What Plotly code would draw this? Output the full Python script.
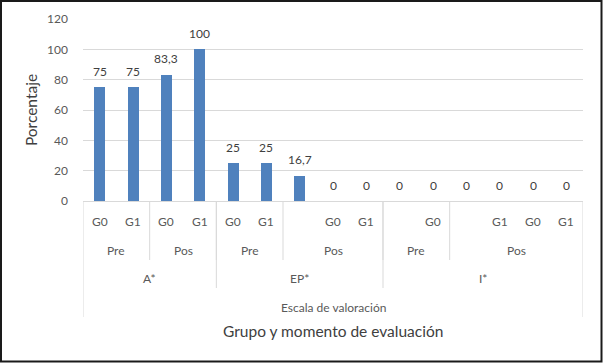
import plotly.graph_objects as go

# ---- data ----
values = [75, 75, 83.3, 100, 25, 25, 16.7, 0, 0, 0, 0, 0, 0, 0, 0]
grupo_labels = ["G0", "G1", "G0", "G1", "G0", "G1", "", "G0", "G1", "", "G0", "", "G1", "G0", "G1"]
momento_groups = [("Pre", 2), ("Pos", 2), ("Pre", 2), ("Pos", 3), ("Pre", 2), ("Pos", 4)]
escala_groups = [("A*", 4), ("EP*", 5), ("I*", 6)]
outer_label = "Escala de valoración"
x_title = "Grupo y momento de evaluación"
y_title = "Porcentaje"
y_ticks = [0, 20, 40, 60, 80, 100, 120]

# ---- layout constants ----
W, H = 603, 363
ML, MR, MT, MB = 83, 20, 19, 162
PW, PH = W - ML - MR, H - MT - MB
FONT = "Lato, 'Open Sans', sans-serif"
LABEL_COLOR = "#595959"
TITLE_COLOR = "#404040"
LINE_COLOR = "#d9d9d9"

n = len(values)
xs = list(range(n))
labels = [f"{v:g}".replace(".", ",") for v in values]

fig = go.Figure()
fig.add_trace(go.Bar(x=xs, y=values, width=0.33, marker=dict(color="#4f81bd", line=dict(width=0)),
                     hoverinfo="skip"))

annotations = []
shapes = []

# data labels
for x, v, t in zip(xs, values, labels):
    annotations.append(dict(x=x, y=v, xref="x", yref="y", text=t, showarrow=False,
                            yanchor="middle", yshift=16,
                            font=dict(family=FONT, size=12, color=TITLE_COLOR)))

def py(px):
    """pixel offset below the x axis -> paper y"""
    return -px / PH

# level 1 labels (grupo)
for x, t in zip(xs, grupo_labels):
    if t:
        annotations.append(dict(x=x, y=0, xref="x", yref="paper", text=t, showarrow=False,
                                yanchor="middle", yshift=-20,
                                font=dict(family=FONT, size=12, color=LABEL_COLOR)))

# level 2 labels (momento) and dividers
start = 0
for name, cnt in momento_groups:
    center = start + (cnt - 1) / 2
    annotations.append(dict(x=center, y=0, xref="x", yref="paper", text=name, showarrow=False,
                            yanchor="middle", yshift=-49,
                            font=dict(family=FONT, size=12, color=LABEL_COLOR)))
    start += cnt
    if start < n:
        shapes.append(dict(type="line", xref="x", yref="paper", x0=start - 0.5, x1=start - 0.5,
                           y0=0, y1=py(59), line=dict(color=LINE_COLOR, width=1)))

# level 3 labels (escala) and dividers
start = 0
for name, cnt in escala_groups:
    center = start + (cnt - 1) / 2
    annotations.append(dict(x=center, y=0, xref="x", yref="paper", text=name, showarrow=False,
                            yanchor="middle", yshift=-77,
                            font=dict(family=FONT, size=12, color=LABEL_COLOR)))
    start += cnt
    if start < n:
        shapes.append(dict(type="line", xref="x", yref="paper", x0=start - 0.5, x1=start - 0.5,
                           y0=0, y1=py(87), line=dict(color=LINE_COLOR, width=1)))

# outer level
annotations.append(dict(x=(n - 1) / 2, y=0, xref="x", yref="paper", text=outer_label, showarrow=False,
                        yanchor="middle", yshift=-106,
                        font=dict(family=FONT, size=12, color=LABEL_COLOR)))
for xe in (-0.5, n - 0.5):
    shapes.append(dict(type="line", xref="x", yref="paper", x0=xe, x1=xe,
                       y0=0, y1=py(116), line=dict(color=LINE_COLOR, width=1)))

# axis title
annotations.append(dict(x=(n - 1) / 2, y=0, xref="x", yref="paper", text=x_title, showarrow=False,
                        yanchor="middle", yshift=-130,
                        font=dict(family=FONT, size=15.5, color=TITLE_COLOR)))

# outer frame
shapes.append(dict(type="rect", xref="paper", yref="paper",
                   x0=-(ML - 1) / PW, x1=1 + (MR - 1.5) / PW,
                   y0=-(MB - 1.5) / PH, y1=1 + (MT - 1) / PH,
                   line=dict(color="#1a1a1a", width=2), fillcolor="rgba(0,0,0,0)"))

fig.update_layout(
    width=W, height=H,
    margin=dict(l=ML, r=MR, t=MT, b=MB, pad=0),
    paper_bgcolor="white", plot_bgcolor="white",
    showlegend=False,
    bargap=0,
    annotations=annotations,
    shapes=shapes,
    xaxis=dict(range=[-0.5, n - 0.5], showticklabels=False, ticks="", showgrid=False,
               zeroline=False, showline=True, linecolor=LINE_COLOR, linewidth=1, fixedrange=True),
    yaxis=dict(range=[0, 120], tickvals=y_ticks, showgrid=True, gridcolor=LINE_COLOR, gridwidth=1,
               zeroline=False, showline=False, ticks="", ticklabelstandoff=14,
               tickfont=dict(family=FONT, size=12, color=LABEL_COLOR),
               title=dict(text=y_title, font=dict(family=FONT, size=15.5, color=TITLE_COLOR), standoff=5),
               fixedrange=True),
)

fig.write_html("out.html", config={"displayModeBar": False},
               post_script="document.body.style.margin='0';document.body.style.overflow='hidden';")
